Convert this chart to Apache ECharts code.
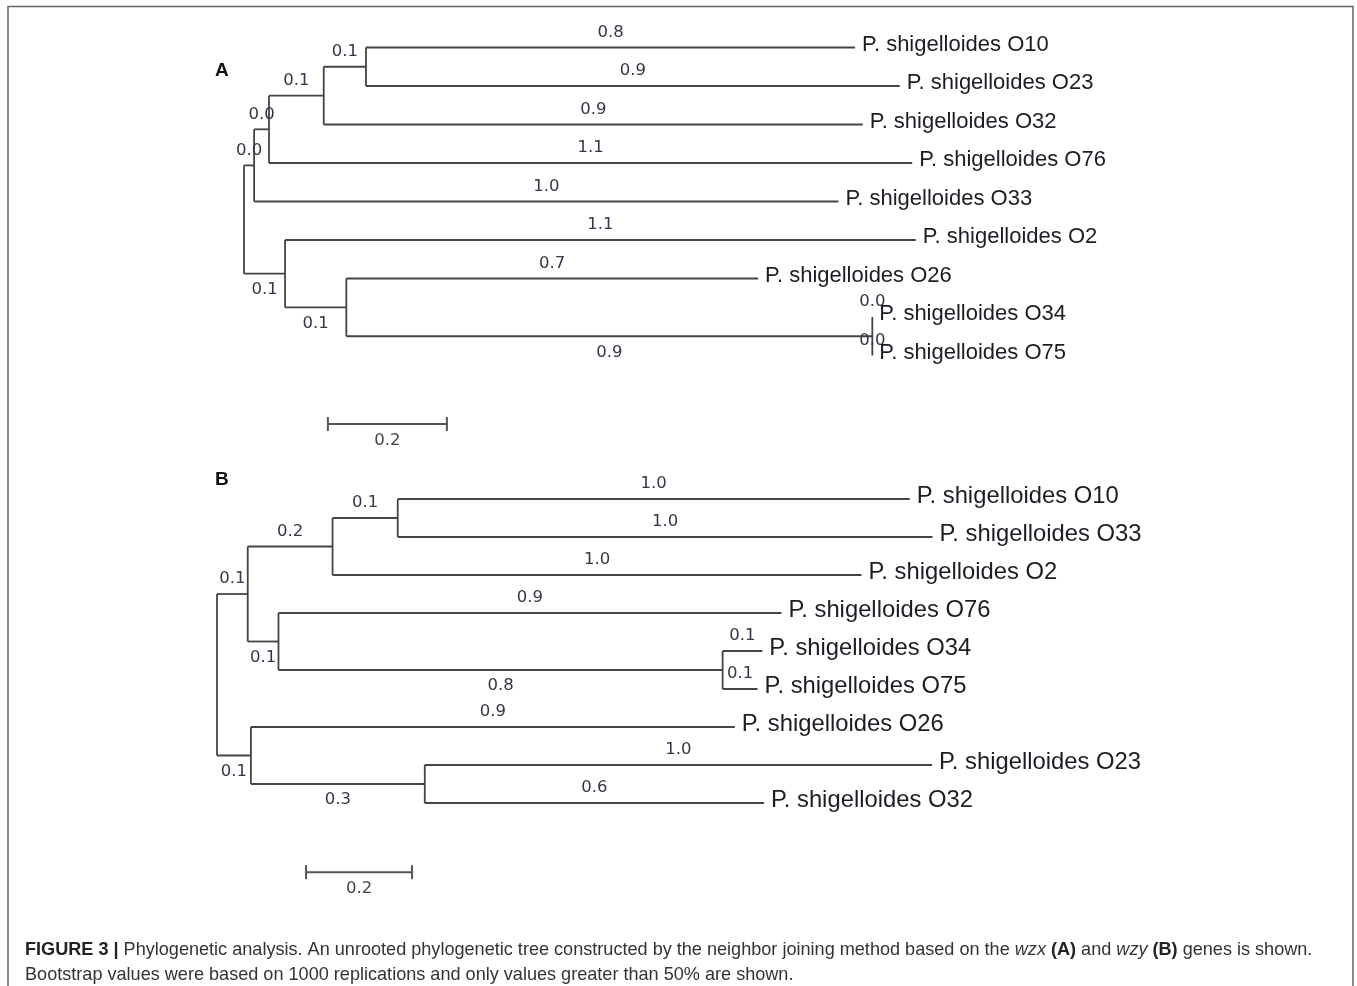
<!DOCTYPE html>
<html><head><meta charset="utf-8">
<script src="https://cdn.jsdelivr.net/npm/echarts/dist/echarts.min.js"></script>
<style>html,body{margin:0;padding:0;background:#fff}#chart{width:1357px;height:986px}</style>
</head><body><div id="chart"></div><script>
// ---------------- Panel A (wzx gene) ----------------
// node list: parent index and branch length (in substitutions/site)
const nodeNamesA = ['', '', '', '', '',
  'P. shigelloides O10', 'P. shigelloides O23', 'P. shigelloides O32',
  'P. shigelloides O76', 'P. shigelloides O33', '', 'P. shigelloides O2', '',
  'P. shigelloides O26', '', 'P. shigelloides O34', 'P. shigelloides O75'];
const parentA = [-1, 0, 1, 2, 3, 4, 4, 3, 2, 1, 0, 10, 10, 12, 12, 14, 14];
const lengthA = [0, 0.017, 0.025, 0.092, 0.071, 0.822, 0.897, 0.906, 1.081, 0.982,
  0.069, 1.06, 0.103, 0.692, 0.884, 0.0, 0.0];

// ---------------- Panel B (wzy gene) ----------------
const nodeNamesB = ['', '', '', '', 'P. shigelloides O10', 'P. shigelloides O33',
  'P. shigelloides O2', '', 'P. shigelloides O76', '', 'P. shigelloides O34',
  'P. shigelloides O75', '', 'P. shigelloides O26', '', 'P. shigelloides O23',
  'P. shigelloides O32'];
const parentB = [-1, 0, 1, 2, 3, 3, 2, 1, 7, 7, 9, 9, 0, 12, 12, 14, 14];
const lengthB = [0, 0.058, 0.160, 0.123, 0.966, 1.009, 0.998, 0.058, 0.949, 0.838,
  0.075, 0.066, 0.064, 0.913, 0.328, 0.957, 0.64];

// scale bar
const scaleBarLength = 0.2;
const scaleBarLabel = '0.2';
const panelLetters = ['A', 'B'];

const captionLine1 = '{b|FIGURE 3 |} Phylogenetic analysis. An unrooted phylogenetic tree constructed by the neighbor joining method based on the {i|wzx} {b|(A)} and {i|wzy} {b|(B)} genes is shown.';
const captionLine2 = 'Bootstrap values were based on 1000 replications and only values greater than 50% are shown.';

// ---------------- layout helpers ----------------
function layoutTree(parent, length, names) {
  const n = parent.length;
  const children = Array.from({length: n}, () => []);
  for (let i = 1; i < n; i++) children[parent[i]].push(i);
  const x = new Array(n), y = new Array(n);
  let row = 0;
  (function visit(i, px) {
    x[i] = px + length[i];
    const cs = children[i];
    if (!cs.length) { y[i] = row++; return; }
    cs.forEach(c => visit(c, x[i]));
    y[i] = (y[cs[0]] + y[cs[cs.length - 1]]) / 2;
  })(0, 0);
  const branches = [], meta = [], verticals = [];
  for (let i = 1; i < n; i++) {
    const p = parent[i], sib = children[p];
    const leaf = children[i].length === 0;
    const below = sib[sib.length - 1] === i && !leaf;
    branches.push([x[p], x[i], y[i], length[i]]);
    meta.push({leaf, below, name: names[i]});
  }
  for (let i = 0; i < n; i++) {
    const cs = children[i];
    if (cs.length) verticals.push([x[i], y[cs[0]], y[cs[cs.length - 1]]]);
  }
  return {branches, meta, verticals};
}

const LINE = '#444', LW = 1.8;
const BR_FONT = '16.5px "DejaVu Sans", Verdana, sans-serif';
const BR_COLOR = '#363648';
const TIP_COLOR = '#1c1c24';

function treeSeries(tree, gi, tipFont) {
  return [{
    type: 'custom', xAxisIndex: gi, yAxisIndex: gi, clip: false, silent: true,
    data: tree.verticals,
    renderItem: (params, api) => {
      const a = api.coord([api.value(0), api.value(1)]);
      const b = api.coord([api.value(0), api.value(2)]);
      return {type: 'line', shape: {x1: a[0], y1: a[1], x2: b[0], y2: b[1]},
        style: {stroke: LINE, lineWidth: LW}};
    }
  }, {
    type: 'custom', xAxisIndex: gi, yAxisIndex: gi, clip: false, silent: true,
    data: tree.branches,
    renderItem: (params, api) => {
      const m = tree.meta[params.dataIndex];
      const p0 = api.coord([api.value(0), api.value(2)]);
      const p1 = api.coord([api.value(1), api.value(2)]);
      const ch = [{type: 'line', shape: {x1: p0[0], y1: p0[1], x2: p1[0], y2: p1[1]},
        style: {stroke: LINE, lineWidth: LW}}];
      ch.push({type: 'text', style: {text: api.value(3).toFixed(1),
        x: (p0[0] + p1[0]) / 2, y: p0[1] + (m.below ? 16 : -15),
        font: BR_FONT, fill: BR_COLOR, align: 'center', verticalAlign: 'middle'}});
      if (m.leaf) ch.push({type: 'text', style: {text: m.name, x: p1[0] + 7, y: p1[1] - 3,
        font: tipFont, fill: TIP_COLOR, align: 'left', verticalAlign: 'middle'}});
      return {type: 'group', children: ch};
    }
  }];
}

function scaleSeries(gi, start, row) {
  return {
    type: 'custom', xAxisIndex: gi, yAxisIndex: gi, clip: false, silent: true,
    data: [[start, start + scaleBarLength, row]],
    renderItem: (params, api) => {
      const a = api.coord([api.value(0), api.value(2)]);
      const b = api.coord([api.value(1), api.value(2)]);
      const st = {stroke: '#555', lineWidth: 2};
      return {type: 'group', children: [
        {type: 'line', shape: {x1: a[0], y1: a[1], x2: b[0], y2: b[1]}, style: st},
        {type: 'line', shape: {x1: a[0], y1: a[1] - 7, x2: a[0], y2: a[1] + 7}, style: st},
        {type: 'line', shape: {x1: b[0], y1: b[1] - 7, x2: b[0], y2: b[1] + 7}, style: st},
        {type: 'text', style: {text: scaleBarLabel, x: (a[0] + b[0]) / 2, y: a[1] + 17,
          font: BR_FONT, fill: '#444', align: 'center', verticalAlign: 'middle'}}
      ]};
    }
  };
}

const treeA = layoutTree(parentA, lengthA, nodeNamesA);
const treeB = layoutTree(parentB, lengthB, nodeNamesB);

const CAP_FAMILY = '"Liberation Sans", Arial, sans-serif';
const chart = echarts.init(document.getElementById('chart'), null, {renderer: 'canvas'});
chart.setOption({
  animation: false,
  backgroundColor: '#fff',
  grid: [
    {left: 244, top: 47.5, width: 1.2 * 595, height: 8 * 38.5},
    {left: 217, top: 499, width: 1.2 * 530, height: 8 * 38}
  ],
  xAxis: [
    {type: 'value', gridIndex: 0, min: 0, max: 1.2, show: false},
    {type: 'value', gridIndex: 1, min: 0, max: 1.2, show: false}
  ],
  yAxis: [
    {type: 'value', gridIndex: 0, min: 0, max: 8, inverse: true, show: false},
    {type: 'value', gridIndex: 1, min: 0, max: 8, inverse: true, show: false}
  ],
  series: [
    ...treeSeries(treeA, 0, '22px "Liberation Sans", Arial, sans-serif'),
    ...treeSeries(treeB, 1, '23.8px "Liberation Sans", Arial, sans-serif'),
    scaleSeries(0, 0.141, 9.78),
    scaleSeries(1, 0.168, 9.82)
  ],
  graphic: [
    {type: 'polyline', silent: true, shape: {points: [[8, 990], [8, 6.5], [1353, 6.5], [1353, 990]]},
      style: {stroke: '#666', lineWidth: 1.5, fill: null}},
    {type: 'text', left: 215, top: 61, style: {text: panelLetters[0],
      font: 'bold 19px "Liberation Sans", Arial, sans-serif', fill: '#111'}},
    {type: 'text', left: 215, top: 470, style: {text: panelLetters[1],
      font: 'bold 19px "Liberation Sans", Arial, sans-serif', fill: '#111'}},
    {type: 'text', left: 25, top: 941, style: {text: captionLine1,
      font: '18.1px ' + CAP_FAMILY, fill: '#333',
      rich: {b: {fontWeight: 'bold', fontSize: 18.1, fontFamily: CAP_FAMILY, fill: '#222'},
             i: {fontStyle: 'italic', fontSize: 18.1, fontFamily: CAP_FAMILY, fill: '#333'}}}},
    {type: 'text', left: 25, top: 966, style: {text: captionLine2,
      font: '18.1px ' + CAP_FAMILY, fill: '#333'}}
  ]
});
</script></body></html>
